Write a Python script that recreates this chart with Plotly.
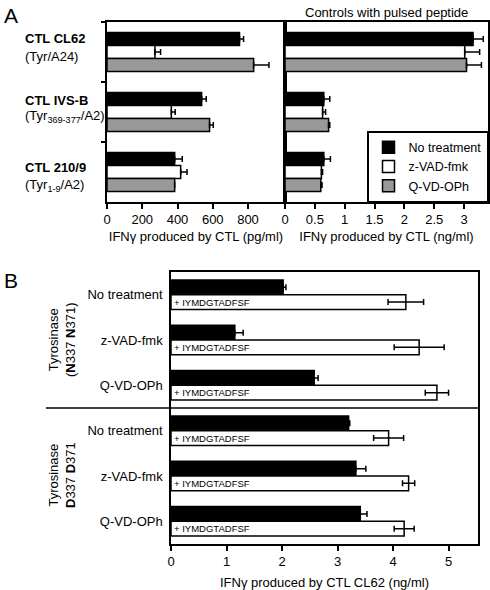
import plotly.graph_objects as go

W, H = 490, 590
FONT = "Liberation Sans, Arial, Helvetica, sans-serif"

# ---------------- Data ----------------
groups_a = ["CTL CL62", "CTL IVS-B", "CTL 210/9"]
group_a_names = ["<b>CTL CL62</b>", "<b>CTL IVS-B</b>", "<b>CTL 210/9</b>"]
group_a_specs = ["(Tyr/A24)", "(Tyr<sub>369-377</sub>/A2)", "(Tyr<sub>1-9</sub>/A2)"]
treatments = ["No treatment", "z-VAD-fmk", "Q-VD-OPh"]

# Panel A left: IFNg (pg/ml)
a_pg_no = [752, 537, 384]
a_pg_no_err = [23, 26, 43]
a_pg_zvad = [272, 365, 418]
a_pg_zvad_err = [32, 22, 36]
a_pg_qvd = [832, 582, 384]
a_pg_qvd_err = [87, 21, 0]

# Panel A right: controls with pulsed peptide (ng/ml)
a_ng_no = [3.15, 0.65, 0.65]
a_ng_no_err = [0.17, 0.10, 0.11]
a_ng_zvad = [3.01, 0.63, 0.61]
a_ng_zvad_err = [0.25, 0.05, 0.02]
a_ng_qvd = [3.04, 0.73, 0.60]
a_ng_qvd_err = [0.25, 0.02, 0.02]

# Panel B
b_labels = ["No treatment", "z-VAD-fmk", "Q-VD-OPh",
            "No treatment", "z-VAD-fmk", "Q-VD-OPh"]
b_pos = [0, 1, 2, 3, 4, 5]
b_black = [2.02, 1.15, 2.58, 3.20, 3.33, 3.41]
b_black_err = [0.05, 0.15, 0.07, 0.02, 0.18, 0.12]
b_white = [4.23, 4.47, 4.79, 3.92, 4.28, 4.20]
b_white_err = [0.32, 0.45, 0.21, 0.27, 0.11, 0.18]
peptide_label = "+ IYMDGTADFSF"

colors = ["#000000", "#ffffff", "#999999"]

fig = go.Figure()

a_left = [(a_pg_no, a_pg_no_err), (a_pg_zvad, a_pg_zvad_err), (a_pg_qvd, a_pg_qvd_err)]
a_right = [(a_ng_no, a_ng_no_err), (a_ng_zvad, a_ng_zvad_err), (a_ng_qvd, a_ng_qvd_err)]

for i, (vals, errs) in enumerate(a_left):
    fig.add_trace(go.Bar(
        y=groups_a, x=vals, orientation="h", name=treatments[i],
        marker=dict(color=colors[i], line=dict(color="black", width=1.5)),
        error_x=dict(type="data", array=errs, arrayminus=[0] * len(errs), symmetric=False,
                     color="black", thickness=1.5, width=3),
        xaxis="x", yaxis="y", showlegend=False, legendgroup=treatments[i]))

for i, (vals, errs) in enumerate(a_right):
    fig.add_trace(go.Bar(
        y=groups_a, x=vals, orientation="h", name=treatments[i],
        marker=dict(color=colors[i], line=dict(color="black", width=1.5)),
        error_x=dict(type="data", array=errs, arrayminus=[0] * len(errs), symmetric=False,
                     color="black", thickness=1.5, width=3),
        xaxis="x2", yaxis="y2", showlegend=True, legendgroup=treatments[i]))

fig.add_trace(go.Bar(
    y=b_pos, x=b_black, orientation="h", name="CL62",
    marker=dict(color="black", line=dict(color="black", width=1.5)),
    error_x=dict(type="data", array=b_black_err, arrayminus=[0] * 6, symmetric=False,
                 color="black", thickness=1.5, width=3),
    xaxis="x3", yaxis="y3", showlegend=False))
fig.add_trace(go.Bar(
    y=b_pos, x=b_white, orientation="h", name="CL62 + peptide",
    marker=dict(color="white", line=dict(color="black", width=1.5)),
    text=[peptide_label] * 6, textposition="inside", insidetextanchor="start",
    textangle=0, constraintext="none", cliponaxis=False,
    textfont=dict(size=9.5, color="black", family=FONT),
    error_x=dict(type="data", array=b_white_err, symmetric=True,
                 color="black", thickness=1.5, width=3),
    xaxis="x3", yaxis="y3", showlegend=False))

def px_x(p):
    return p / W

def px_y(p):
    return 1 - p / H

axis_common = dict(showline=True, linecolor="black", linewidth=1.5, mirror=True,
                   showgrid=False, zeroline=False, automargin=False,
                   tickfont=dict(size=13, color="black", family=FONT),
                   ticks="outside", ticklen=5, tickwidth=1.5, tickcolor="black")

fig.update_layout(
    width=W, height=H, template="none",
    margin=dict(l=0, r=0, t=0, b=0),
    paper_bgcolor="white", plot_bgcolor="white",
    font=dict(family=FONT, size=13, color="black"),
    barmode="group", bargap=0.35, bargroupgap=0,
    xaxis=dict(axis_common, domain=[px_x(107), px_x(285)], range=[0, 1010],
               tickvals=[0, 200, 400, 600, 800], anchor="y",
               title=dict(text="IFNγ produced by CTL (pg/ml)", font=dict(size=13), standoff=6)),
    yaxis=dict(axis_common, domain=[px_y(202), px_y(22)], type="category",
               categoryorder="array", categoryarray=groups_a,
               range=[2.5, -0.5], showticklabels=False, tickson="boundaries",
               ticklen=4, anchor="x"),
    xaxis2=dict(axis_common, domain=[px_x(285), px_x(488)], range=[0, 3.4],
                tickvals=[0, 0.5, 1, 1.5, 2, 2.5, 3],
                ticktext=["0", "0.5", "1", "1.5", "2", "2.5", "3"], anchor="y2",
                title=dict(text="IFNγ produced by CTL (ng/ml)", font=dict(size=13), standoff=6)),
    yaxis2=dict(axis_common, domain=[px_y(202), px_y(22)], type="category",
                categoryorder="array", categoryarray=groups_a,
                range=[2.5, -0.5], showticklabels=False, ticks="", anchor="x2"),
    xaxis3=dict(axis_common, domain=[px_x(171), px_x(478)], range=[0, 5.53],
                tickvals=[0, 1, 2, 3, 4, 5], anchor="y3",
                title=dict(text="IFNγ produced by CTL CL62 (ng/ml)", font=dict(size=13), standoff=12)),
    yaxis3=dict(axis_common, domain=[px_y(544), px_y(272)], range=[5.5, -0.5],
                tickvals=b_pos, ticktext=b_labels, ticks="", ticklabelstandoff=4,
                anchor="x3"),
    legend=dict(x=px_x(488), xanchor="right", y=px_y(202), yanchor="bottom",
                bgcolor="white", bordercolor="black", borderwidth=1.5,
                font=dict(size=12.5, family=FONT), itemwidth=30,
                tracegroupgap=0, traceorder="normal"),
    shapes=[dict(type="line", xref="paper", yref="y3", x0=px_x(46), x1=px_x(478),
                 y0=2.5, y1=2.5, line=dict(color="black", width=1.5))],
)

annotations = [
    dict(text="A", x=px_x(2), y=px_y(15), xanchor="left", yanchor="middle", font=dict(size=21)),
    dict(text="B", x=px_x(2), y=px_y(280), xanchor="left", yanchor="middle", font=dict(size=21)),
    dict(text="Controls with pulsed peptide", x=px_x(386), y=px_y(12),
         xanchor="center", yanchor="middle", font=dict(size=13)),
    dict(text="Tyrosinase<br>(<b>N</b>337 <b>N</b>371)", x=px_x(62), y=px_y(340),
         textangle=-90, xanchor="center", yanchor="middle", font=dict(size=13)),
    dict(text="Tyrosinase<br><b>D</b>337 <b>D</b>371", x=px_x(62), y=px_y(475),
         textangle=-90, xanchor="center", yanchor="middle", font=dict(size=13)),
]
for name, spec, y1, y2 in zip(group_a_names, group_a_specs, [39, 100, 168], [56, 116, 185]):
    annotations.append(dict(text=name, x=px_x(23), y=px_y(y1), xanchor="left",
                            yanchor="middle", align="left", font=dict(size=13)))
    annotations.append(dict(text=spec, x=px_x(23), y=px_y(y2), xanchor="left",
                            yanchor="middle", align="left", font=dict(size=13)))
for a in annotations:
    a.update(xref="paper", yref="paper", showarrow=False)
fig.update_layout(annotations=annotations)

fig.write_html("out.html", config={"displayModeBar": False},
               post_script="document.body.style.margin='0';document.body.style.overflow='hidden';")
